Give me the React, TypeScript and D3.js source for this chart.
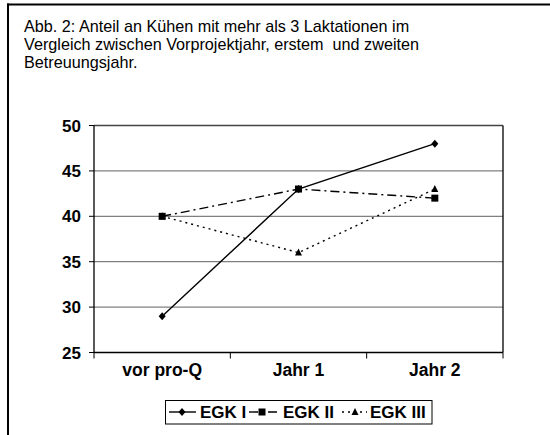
import * as d3 from "d3";

const categories = ["vor pro-Q", "Jahr 1", "Jahr 2"];
const egk1 = [29, 43, 48];
const egk2 = [40, 43, 42];
const egk3 = [40, 36, 43];
const yTicks = [25, 30, 35, 40, 45, 50];
const seriesNames = ["EGK I", "EGK II", "EGK III"];
const titleLines = [
  "Abb. 2: Anteil an Kühen mit mehr als 3 Laktationen im",
  "Vergleich zwischen Vorprojektjahr, erstem  und zweiten",
  "Betreuungsjahr.",
];

const font = "'Liberation Sans', Arial, sans-serif";

function Marker({ kind, x, y }: { kind: number; x: number; y: number }) {
  if (kind === 0) {
    return <path d={`M${x},${y - 4}L${x + 3.5},${y}L${x},${y + 4}L${x - 3.5},${y}Z`} fill="#000" />;
  }
  if (kind === 1) {
    return <rect x={x - 3.5} y={y - 3.5} width={7} height={7} fill="#000" />;
  }
  return <path d={`M${x},${y - 4}L${x + 3.5},${y + 3}L${x - 3.5},${y + 3}Z`} fill="#000" />;
}

export default function App() {
  const width = 550;
  const height = 435;
  const left = 94;
  const right = 503;
  const top = 125.5;
  const bottom = 352.5;

  const x = d3.scaleBand().domain(categories).range([left, right]);
  const y = d3.scaleLinear().domain([25, 50]).range([bottom, top]);
  const cx = (c: string) => (x(c) ?? 0) + x.bandwidth() / 2;

  const series = [egk1, egk2, egk3];
  const dashes = [undefined, "9,4,2,4", "2,4"];
  const line = d3
    .line<number>()
    .x((_, i) => cx(categories[i]))
    .y((d) => y(d));

  const bounds = [...categories.map((c) => x(c) ?? 0), right];

  const legendItems = [
    { sx: 169, sw: 27, tx: 200 },
    { sx: 249, sw: 30, tx: 283 },
    { sx: 342, sw: 25, tx: 370 },
  ];

  return (
    <svg
      width={width}
      height={height}
      style={{ position: "absolute", left: 0, top: 0, background: "#fff" }}
      fontFamily={font}
    >
      <line x1={7} x2={550} y1={4.5} y2={4.5} stroke="#000" strokeWidth={2} />
      <line x1={8} x2={8} y1={3.5} y2={435} stroke="#000" strokeWidth={2} />

      {titleLines.map((t, i) => (
        <text key={i} x={24} y={32 + i * 18} fontSize={16.2} fill="#000" xmlSpace="preserve">
          {t}
        </text>
      ))}

      {yTicks.map((t) => (
        <g key={t}>
          {t !== 25 && (
            <line x1={left} x2={right} y1={y(t)} y2={y(t)} stroke={t === 50 ? "#444" : "#808080"} strokeWidth={1.3} />
          )}
          <line x1={left - 5} x2={left} y1={y(t)} y2={y(t)} stroke="#000" strokeWidth={1} />
          <text
            x={81}
            y={y(t)}
            dy="0.36em"
            textAnchor="end"
            fontSize={17}
            fontWeight="bold"
            fill="#000"
          >
            {t}
          </text>
        </g>
      ))}

      <line x1={left} x2={left} y1={top} y2={bottom} stroke="#000" strokeWidth={1.3} />
      <line x1={right} x2={right} y1={top} y2={bottom} stroke="#000" strokeWidth={1.3} />
      <line x1={left} x2={right} y1={bottom} y2={bottom} stroke="#000" strokeWidth={1.3} />
      {bounds.map((b, i) => (
        <line key={i} x1={b} x2={b} y1={bottom} y2={bottom + 6} stroke="#000" strokeWidth={1} />
      ))}
      {categories.map((c) => (
        <text key={c} x={cx(c)} y={376} textAnchor="middle" fontSize={17.5} fontWeight="bold" fill="#000">
          {c}
        </text>
      ))}

      {series.map((s, k) => (
        <g key={k}>
          <path d={line(s) ?? ""} fill="none" stroke="#000" strokeWidth={1.4} strokeDasharray={dashes[k]} />
          {s.map((v, i) => (
            <Marker key={i} kind={k} x={cx(categories[i])} y={y(v)} />
          ))}
        </g>
      ))}

      <rect x={165.5} y={400.5} width={266.5} height={23.5} fill="#fff" stroke="#000" strokeWidth={1} />
      {legendItems.map((it, k) => (
        <g key={k}>
          <line
            x1={it.sx}
            x2={it.sx + it.sw}
            y1={412}
            y2={412}
            stroke="#000"
            strokeWidth={1.4}
            strokeDasharray={dashes[k]}
          />
          <Marker kind={k} x={it.sx + 13} y={412} />
          <text x={it.tx} y={418} fontSize={17} fontWeight="bold" fill="#000">
            {seriesNames[k]}
          </text>
        </g>
      ))}
    </svg>
  );
}
